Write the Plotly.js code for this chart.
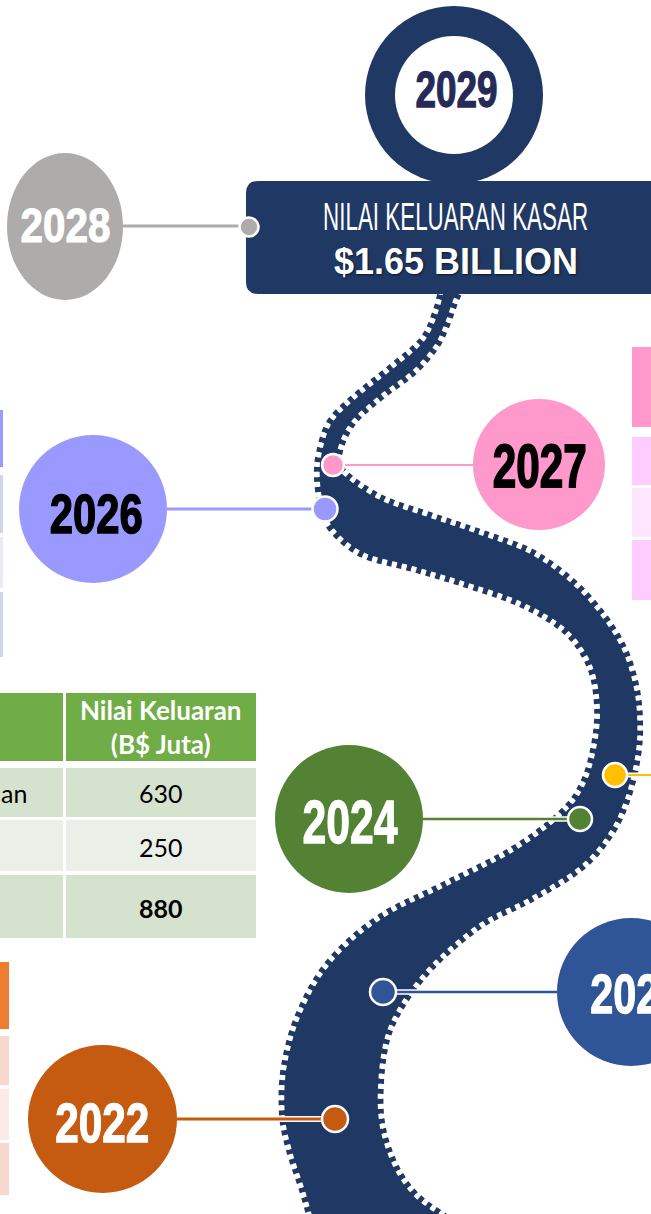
<!DOCTYPE html>
<html><head><meta charset="utf-8">
<script src="https://cdn.plot.ly/plotly-3.0.1.min.js"></script>
<style>html,body{margin:0;padding:0;background:#fff;overflow:hidden}#chart{width:651px;height:1214px}</style>
</head><body><div id="chart"></div>
<script>
// ================= DATA =================
const years = ['2022', '2023', '2024', '2025', '2026', '2027', '2028', '2029'];
const totalTitle = 'NILAI KELUARAN KASAR';
const totalValue = '$1.65 BILLION';
const table2024Header = ['Nilai Keluaran', '(B$ Juta)'];
const table2024Labels = ['an', '', ''];          // first column, cut off at page edge
const table2024Values = ['630', '250', '880'];
const table2024Bold = [false, false, true];

// ================= GEOMETRY / STYLE (not data) =================
const nodeStyle = {
  '2022': {ell: [28, 177, 1045, 1193], fill: '#C55A11', txt: '#FFFFFF', tx: 102, ty: 1122, fs: 56, dot: [335, 1119, 26], line: [177, 335, 1119, 3]},
  '2023': {ell: [557, 705, 918, 1066], fill: '#2F5597', txt: '#FFFFFF', tx: 636, ty: 993, fs: 56, dot: [383, 992, 26], line: [383, 557, 992, 2.5]},
  '2024': {ell: [275, 423, 745, 893], fill: '#548235', txt: '#FFFFFF', tx: 350, ty: 821, fs: 62, dot: [580, 819, 24], line: [423, 580, 819, 2.5]},
  '2025': {ell: null, fill: '#FFC000', dot: [615, 775, 24], line: [615, 652, 775, 2]},
  '2026': {ell: [19, 167, 435, 583], fill: '#9999FF', txt: '#000000', tx: 96, ty: 513, fs: 56, dot: [325, 509, 25], line: [167, 325, 509, 3]},
  '2027': {ell: [473, 605, 399, 530], fill: '#FF99CC', txt: '#000000', tx: 540, ty: 466, fs: 61, dot: [333, 465, 22], line: [333, 473, 465, 2]},
  '2028': {ell: [7, 123, 153, 300], fill: '#AEABAB', txt: '#FFFFFF', tx: 65, ty: 225, fs: 49, dot: [249, 227, 19], line: [123, 249, 226, 3]},
  '2029': {ring: [454, 95, 89, 59], fill: '#1F3864', txt: '#262A58', tx: 456, ty: 90, fs: 50}
};
// condensed rendering: [target text length, vertical stretch, extra stroke]
const condensed = {
  '2022': [94, 1, 1.3], '2023': [92, 1, 1.3], '2024': [95, 1, 1.3], '2026': [93, 1, 1.5],
  '2027': [94, 1, 1.8], '2028': [90, 1, 1.1], '2029': [82, 1, 1.3],
  'NILAI KELUARAN KASAR': [265, 1.3, 0]
};

const NAVY = '#1F3864';
const roadLeft = [[443,285],[437,310],[423,340],[390,369],[353,399],[330,423],[320,453],[318,477],[322,506],[333,530],[363,554],[413,568],[460,582],[520,603],[565,630],[590,665],[598,705],[595,745],[583,785],[560,815],[513,850],[445,885],[380,918],[330,962],[300,1013],[285,1066],[283,1114],[290,1150],[303,1190],[312,1222]];
const roadRight = [[462,285],[455,300],[446,325],[435,347],[413,372],[380,397],[352,423],[339,451],[342,471],[380,498],[430,516],[480,533],[530,552],[570,580],[600,612],[623,648],[635,685],[639,721],[637,756],[627,798],[610,834],[580,868],[530,899],[480,925],[430,968],[397,1013],[383,1054],[380,1114],[392,1160],[415,1195],[452,1222]];

const tables = [
  // [x0,x1,y0,y1,color]
  [0,63,693,761,'#70AD47'],[66,256,693,761,'#70AD47'],
  [0,63,768,817,'#D5E3CE'],[66,256,768,817,'#D5E3CE'],
  [0,63,820,871,'#EAF0E8'],[66,256,820,871,'#EAF0E8'],
  [0,63,875,938,'#D5E3CE'],[66,256,875,938,'#D5E3CE'],
  [0,9,962,1029,'#ED7D31'],[0,9,1036,1085,'#F8D8CC'],[0,9,1089,1140,'#FBEAE5'],[0,9,1143,1195,'#F8D8CC'],
  [0,3,410,467,'#9999FF'],[0,3,475,533,'#CFD5EA'],[0,3,537,588,'#E9EBF5'],[0,3,592,657,'#CFD5EA'],
  [632,652,347,427,'#FF99CC'],[632,652,437,485,'#FFCCFF'],[632,652,488,537,'#FFE6FF'],[632,652,540,600,'#FFCCFF']
];
const tableRowY = [793, 847, 908];

// ================= BUILD =================
function segs(pts, start) {
  let d = (start ? 'M' : 'L') + pts[0][0] + ',' + pts[0][1];
  for (let i = 0; i < pts.length - 1; i++) {
    const p0 = pts[i - 1] || pts[i], p1 = pts[i], p2 = pts[i + 1], p3 = pts[i + 2] || pts[i + 1];
    const c1 = [p1[0] + (p2[0] - p0[0]) / 6, p1[1] + (p2[1] - p0[1]) / 6];
    const c2 = [p2[0] - (p3[0] - p1[0]) / 6, p2[1] - (p3[1] - p1[1]) / 6];
    d += ' C' + c1[0].toFixed(1) + ',' + c1[1].toFixed(1) + ' ' + c2[0].toFixed(1) + ',' + c2[1].toFixed(1) + ' ' + p2[0] + ',' + p2[1];
  }
  return d;
}

const shapes = [];
const annotations = [];

tables.forEach(t => shapes.push({type: 'rect', layer: 'below', x0: t[0], x1: t[1], y0: t[2], y1: t[3], fillcolor: t[4], line: {width: 0}}));

// 2029 ring
const r = nodeStyle['2029'].ring;
shapes.push({type: 'circle', layer: 'below', x0: r[0] - r[2], x1: r[0] + r[2], y0: r[1] - r[2], y1: r[1] + r[2], fillcolor: NAVY, line: {width: 0}});
shapes.push({type: 'circle', layer: 'below', x0: r[0] - r[3], x1: r[0] + r[3], y0: r[1] - r[3], y1: r[1] + r[3], fillcolor: '#FFFFFF', line: {width: 0}});

// road with notched (dashed) edges
const roadPath = segs(roadLeft, true) + ' ' + segs(roadRight.slice().reverse(), false) + ' Z';
shapes.push({type: 'path', layer: 'below', path: roadPath, fillcolor: NAVY, line: {width: 0}});
[roadLeft, roadRight].forEach(e => {
  shapes.push({type: 'path', layer: 'below', path: segs(e, true), fillcolor: 'rgba(0,0,0,0)', line: {color: NAVY, width: 8, dash: '5px,5px'}});
  shapes.push({type: 'path', layer: 'below', path: segs(e, true), fillcolor: 'rgba(0,0,0,0)', line: {color: '#FFFFFF', width: 3.5, dash: '0px,5px,5px,0px'}});
});

// total box
shapes.push({type: 'path', layer: 'below', path: 'M246,193 Q246,181 258,181 L660,181 L660,294 L258,294 Q246,294 246,282 Z', fillcolor: NAVY, line: {width: 0}});

// connectors, circles
const dotX = [], dotY = [], dotS = [], dotC = [];
years.forEach(y => {
  const s = nodeStyle[y];
  if (s.line) {
    const l = s.line;
    shapes.push({type: 'line', layer: 'below', x0: l[0], x1: l[1], y0: l[2], y1: l[2], line: {color: '#FFFFFF', width: l[3] + 3}});
    shapes.push({type: 'line', layer: 'below', x0: l[0], x1: l[1], y0: l[2], y1: l[2], line: {color: s.fill, width: l[3]}});
  }
  if (s.ell) {
    shapes.push({type: 'circle', layer: 'below', x0: s.ell[0], x1: s.ell[1], y0: s.ell[2], y1: s.ell[3], fillcolor: s.fill, line: {width: 0}});
  }
  if (s.dot) { dotX.push(s.dot[0]); dotY.push(s.dot[1]); dotS.push(s.dot[2]); dotC.push(s.fill); }
  if (s.txt) {
    annotations.push({x: s.tx, y: s.ty, xref: 'x', yref: 'y', text: y, showarrow: false, xanchor: 'center', yanchor: 'middle',
      font: {family: 'Liberation Sans, Arial, sans-serif', size: s.fs, color: s.txt, weight: 700}});
  }
});

// total texts
annotations.push({x: 455, y: 216, xref: 'x', yref: 'y', text: totalTitle, showarrow: false, xanchor: 'center', yanchor: 'middle',
  font: {family: 'Liberation Sans, Arial, sans-serif', size: 30, color: '#FFFFFF', weight: 400}});
annotations.push({x: 456, y: 261, xref: 'x', yref: 'y', text: totalValue, showarrow: false, xanchor: 'center', yanchor: 'middle',
  font: {family: 'Liberation Sans, Arial, sans-serif', size: 36, color: '#FFFFFF', weight: 700, shadow: '1px 1px 2px rgba(0,0,0,0.6)'}});

// 2024 table texts
annotations.push({x: 161, y: 727, xref: 'x', yref: 'y', text: table2024Header.join('<br>'), showarrow: false, xanchor: 'center', yanchor: 'middle',
  font: {family: 'Lato, sans-serif', size: 26, color: '#FFFFFF', weight: 700}});
table2024Values.forEach((v, i) => {
  annotations.push({x: 161, y: tableRowY[i], xref: 'x', yref: 'y', text: v, showarrow: false, xanchor: 'center', yanchor: 'middle',
    font: {family: 'Lato, sans-serif', size: 25, color: '#000000', weight: table2024Bold[i] ? 700 : 400}});
  if (table2024Labels[i]) annotations.push({x: 29, y: tableRowY[i], xref: 'x', yref: 'y', text: table2024Labels[i], showarrow: false, xanchor: 'right', yanchor: 'middle',
    font: {family: 'Lato, sans-serif', size: 25, color: '#000000'}});
});

const traces = [{
  type: 'scatter', mode: 'markers', x: dotX, y: dotY, hoverinfo: 'skip',
  marker: {size: dotS, color: dotC, opacity: 1, line: {color: '#FFFFFF', width: 2.5}}
}];

const layout = {
  width: 651, height: 1214, margin: {l: 0, r: 0, t: 0, b: 0, pad: 0},
  paper_bgcolor: '#FFFFFF', plot_bgcolor: '#FFFFFF', showlegend: false,
  xaxis: {range: [0, 651], visible: false, fixedrange: true},
  yaxis: {range: [1214, 0], visible: false, fixedrange: true},
  shapes: shapes, annotations: annotations
};

Plotly.newPlot('chart', traces, layout, {staticPlot: true, displayModeBar: false}).then(gd => {
  gd.querySelectorAll('text.annotation-text').forEach(t => {
    const k = t.textContent.trim();
    const c = condensed[k];
    if (!c) return;
    const L = c[0];
    t.setAttribute('textLength', L);
    t.setAttribute('lengthAdjust', 'spacingAndGlyphs');
    if (c[2]) { t.style.stroke = t.style.fill; t.style.strokeWidth = c[2] + 'px'; }
    if (c[1] !== 1) {
      const bb = t.getBBox();
      const cx = bb.x + bb.width / 2, cy = bb.y + bb.height / 2;
      t.setAttribute('transform', 'translate(' + cx + ',' + cy + ') scale(1,' + c[1] + ') translate(' + (-cx) + ',' + (-cy) + ')');
    }
    const rect = t.parentNode.querySelector('rect.bg');
    if (rect) {
      const w = parseFloat(rect.getAttribute('width')), x = parseFloat(rect.getAttribute('x'));
      rect.setAttribute('x', x + (w - L - 4) / 2);
      rect.setAttribute('width', L + 4);
    }
  });
});
</script></body></html>
